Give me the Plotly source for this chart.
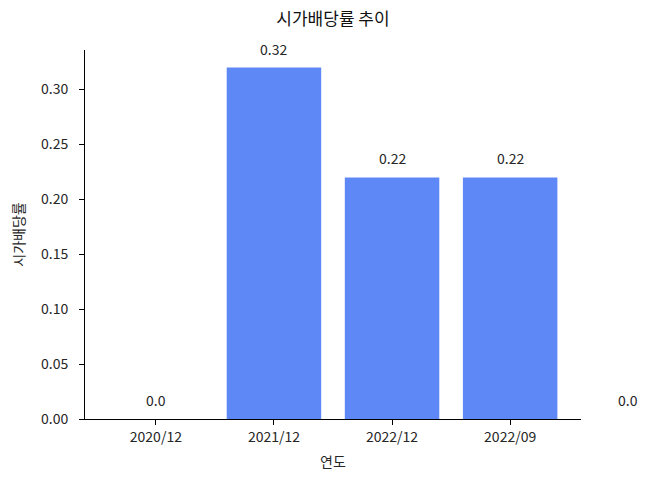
import plotly.graph_objects as go

categories = ["2020/12", "2021/12", "2022/12", "2022/09"]
values = [0.0, 0.32, 0.22, 0.22]
label_values = [0.0, 0.32, 0.22, 0.22, 0.0]
y_ticks = [0.0, 0.05, 0.10, 0.15, 0.20, 0.25, 0.30]

FONT = "Noto Sans CJK KR"
BAR_COLOR = "#5e88f6"
TEXT_COLOR = "#262626"
LABEL_OFFSET = 0.01  # data units above the bar, like ax.text(i, v + 0.01, ...)
X_RANGE = [-0.6, 3.6]
Y_RANGE = [0, 0.336]

positions = list(range(len(categories)))

fig = go.Figure()
fig.add_trace(go.Bar(
    x=positions, y=values, width=0.8,
    marker=dict(color=BAR_COLOR, line=dict(width=0)),
    hoverinfo="skip", showlegend=False,
))

# value labels: the last one sits past the right end of the x axis,
# so place them in x-domain units derived from the axis range
for i, v in enumerate(label_values):
    fig.add_annotation(
        x=(i - X_RANGE[0]) / (X_RANGE[1] - X_RANGE[0]), xref="x domain",
        y=v + LABEL_OFFSET, yref="y", yshift=-4,
        text=str(v), showarrow=False, xanchor="center", yanchor="bottom",
        font=dict(family=FONT, size=14, color=TEXT_COLOR),
    )

# page body has an 8px margin, so the figure is 8px smaller than the window
fig.update_layout(
    width=642, height=471,
    margin=dict(l=77, r=69, t=42, b=60, autoexpand=False),
    paper_bgcolor="white", plot_bgcolor="white",
    font=dict(family=FONT, size=14, color=TEXT_COLOR),
    title=dict(text="시가배당률 추이", x=(77 + 248) / 642, xanchor="center",
               y=1 - 11 / 471, yanchor="middle",
               font=dict(family=FONT, size=17, color="#111111")),
    xaxis=dict(
        range=X_RANGE, tickvals=positions, ticktext=categories,
        showline=True, linecolor="black", linewidth=1,
        ticks="outside", ticklen=5, tickcolor="black",
        showgrid=False, zeroline=False, automargin=False,
        tickfont=dict(family=FONT, size=14),
        title=dict(text="연도", font=dict(family=FONT, size=14), standoff=12),
    ),
    yaxis=dict(
        range=Y_RANGE, tickvals=y_ticks,
        ticktext=[f"{t:.2f}" for t in y_ticks],
        showline=True, linecolor="black", linewidth=1,
        ticks="outside", ticklen=5, tickcolor="black",
        showgrid=False, zeroline=False, automargin=False,
        tickfont=dict(family=FONT, size=14), ticklabelstandoff=8,
        title=dict(text="시가배당률", font=dict(family=FONT, size=14), standoff=14),
    ),
)

fig.write_html("out.html")
